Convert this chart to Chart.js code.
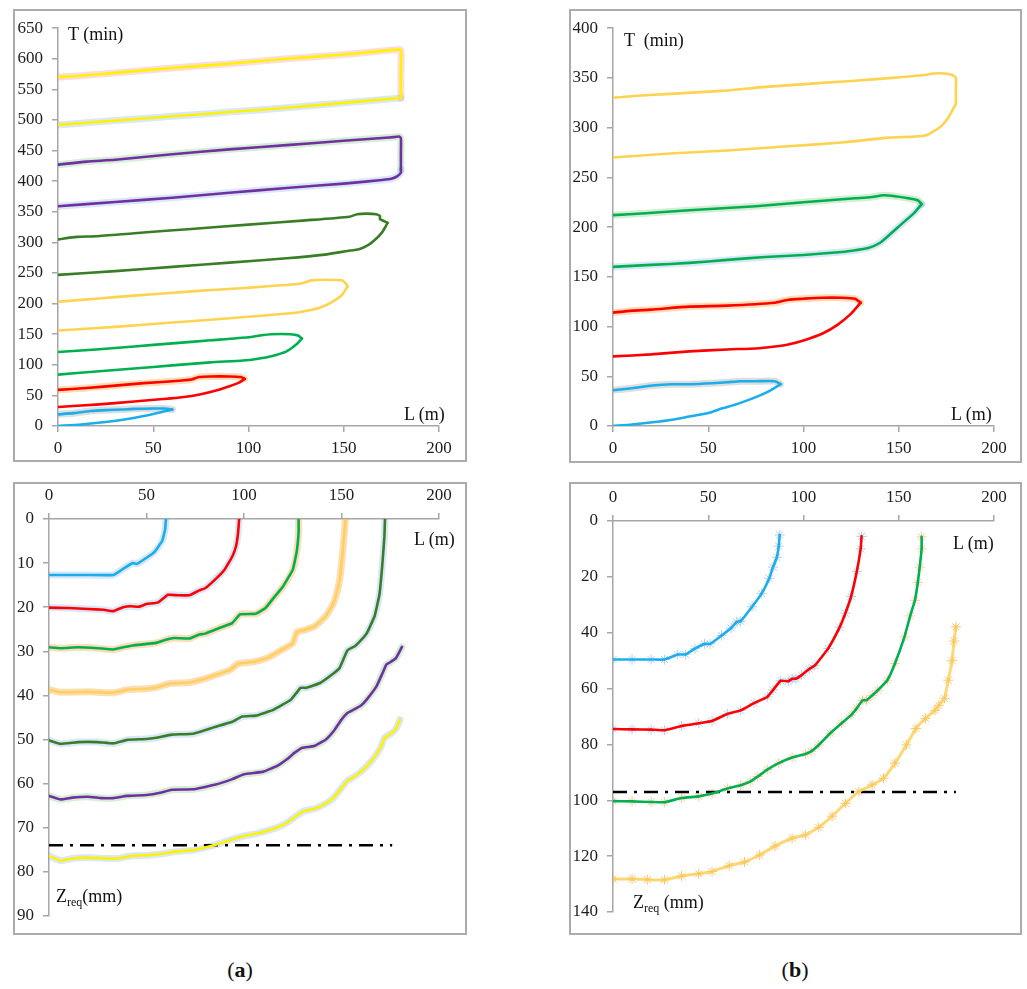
<!DOCTYPE html>
<html><head><meta charset="utf-8">
<script src="https://cdn.jsdelivr.net/npm/chart.js@4.4.1/dist/chart.umd.min.js"></script>
<style>
body{margin:0;background:#fff;width:1027px;height:989px;position:relative;overflow:hidden;font-family:'Liberation Serif',serif;}
.box{position:absolute;border:2px solid #ababab;box-sizing:border-box;}
canvas{position:absolute;}
.lbl{position:absolute;font-size:18px;line-height:20px;color:#111;white-space:pre;}
.cap{position:absolute;font-size:22px;line-height:24px;color:#111;width:60px;text-align:center;}
sub{font-size:12px;vertical-align:-4px;}
</style></head><body>
<div class="box" style="left:13px;top:9px;width:454px;height:453px"></div>
<div class="box" style="left:569px;top:9px;width:453px;height:454px"></div>
<div class="box" style="left:13px;top:482px;width:454px;height:453px"></div>
<div class="box" style="left:569px;top:482px;width:453px;height:453px"></div>
<canvas id="tl" width="454" height="453" style="left:13px;top:9px"></canvas>
<canvas id="tr" width="453" height="454" style="left:569px;top:9px"></canvas>
<canvas id="bl" width="454" height="453" style="left:13px;top:482px"></canvas>
<canvas id="br" width="453" height="453" style="left:569px;top:482px"></canvas>
<div class="lbl" style="left:68px;top:24px">T (min)</div>
<div class="lbl" style="left:404px;top:404px">L (m)</div>
<div class="lbl" style="left:624px;top:30px">T  (min)</div>
<div class="lbl" style="left:951px;top:404px">L (m)</div>
<div class="lbl" style="left:414px;top:529px">L (m)</div>
<div class="lbl" style="left:56px;top:886px">Z<sub>req</sub>(mm)</div>
<div class="lbl" style="left:953px;top:533px">L (m)</div>
<div class="lbl" style="left:633px;top:892px">Z<sub>req</sub> (mm)</div>
<div class="cap" style="left:210px;top:958px">(<b>a</b>)</div>
<div class="cap" style="left:765px;top:958px">(<b>b</b>)</div>
<script>
// ---------- data ----------
const xTicks = [0, 50, 100, 150, 200];
// (a) top: T (min) vs L (m) — advance (lower) and recession (upper) branches
const tlBlueAdv = [[0,0],[12,2.5],[25,6.5],[35,10.5],[43,15],[50,19.5],[56,24],[60,27]];
const tlBlueRec = [[60,27],[56,28.5],[50,28.5],[40,28],[34,27],[25,26],[17,24.5],[8,21],[0,19]];
const tlRedAdv = [[0,31],[20,35],[40,40],[55,44],[65,47],[75,52],[83,58],[90,65],[95,71],[98,77]];
const tlRedRec = [[98,77],[96,80],[90,81],[80,81],[74,80],[70,76],[60,73],[45,70],[30,66],[15,62],[0,59]];
const tlGreenAdv = [[0,84],[20,89],[40,94],[60,99],[80,104],[97,107],[105,110],[112,114],[120,122],[125,133],[128,143]];
const tlGreenRec = [[128,143],[126,148],[122,150],[112,150],[106,148],[100,145],[80,140],[60,135],[40,130],[20,125],[0,121]];
const tlOrangeAdv = [[0,156],[30,162],[60,169],[90,176],[110,181],[125,185],[132,189],[138,194],[144,203],[149,214],[152,228]];
const tlOrangeRec = [[152,228],[151,233],[149,238],[140,239],[133,238],[130,235],[126,232],[100,226],[70,220],[40,213],[20,208],[8,205],[0,203]];
const tlDkGreenAdv = [[0,247],[30,253],[60,260],[90,267],[120,274],[140,280],[152,286],[158,289],[163,296],[167,306],[170,316],[172,326],[173,332]];
const tlDkGreenRec = [[173,332],[171,335],[169,338],[169,343],[167,346],[162,347],[157,346],[153,342],[130,336],[100,329],[70,322],[40,315],[20,310],[10,309],[0,305]];
const tlPurpleAdv = [[0,359],[30,366],[60,373],[90,381],[120,389],[150,396],[170,402],[175,404],[178,408],[180,414],[180,419]];
const tlPurpleRec = [[180,419],[180,445],[180,470],[179,473],[176,472],[172,471],[150,466],[120,459],[90,452],[60,444],[30,435],[15,432],[0,427]];
const tlYellowAdv = [[0,492],[30,499],[60,506],[90,513],[120,520],[150,528],[180,536]];
const tlYellowRec = [[180,536],[180,575],[180,614],[178,615],[150,607],[120,600],[90,592],[60,585],[30,577],[10,572],[0,570]];
const tlYTicks = {min:0, max:650, step:50};

// (b) top
const trBlueAdv = [[0,0],[10,1.5],[22,4],[30,6],[40,9.5],[50,13],[57,17.5],[65,22],[75,29],[82,35],[88,42]];
const trBlueRec = [[88,42],[85,45],[75,45],[67,45],[60,44],[52,43],[40,42],[31,42],[22,41],[10,38],[0,36]];
const trRedAdv = [[0,70],[20,72],[40,75],[60,77],[75,78],[85,80],[92,82],[100,86],[110,93],[118,102],[125,113],[130,124]];
const trRedRec = [[130,124],[127,128],[120,129],[110,129],[100,128],[92,127],[85,124],[60,121],[40,120],[20,117],[10,116],[0,114]];
const trGreenAdv = [[0,160],[20,162],[40,164],[60,167],[80,170],[100,172],[120,175],[128,177],[134,179],[140,184],[145,192],[152,204],[158,214],[162,223]];
const trGreenRec = [[162,223],[160,227],[155,229],[148,231],[142,232],[135,230],[127,229],[100,225],[75,221],[40,217],[17,214],[0,212]];
const trYellowAdv = [[0,270],[30,274],[60,277],[90,281],[120,285],[145,290],[158,291],[164,292],[168,296],[172,301],[176,310],[180,324]];
const trYellowRec = [[180,324],[180,340],[180,350],[178,353],[174,354.5],[168,354.5],[164,353],[140,349],[110,345],[80,341],[57,337],[30,334],[13,332],[0,330]];
const trYTicks = {min:0, max:400, step:50};

// (a) bottom: Zreq (mm) vs L (m)
const blBlue = [[0,12.7],[10,12.7],[20,12.7],[33,12.7],[38,11.3],[43,10],[45,10.2],[50,8.8],[54,7.5],[58,5],[59.5,2.5],[60,0]];
const blRed = [[0,20.1],[10,20.2],[20,20.4],[28,20.6],[33,20.9],[38,20],[42,19.8],[46,19.9],[50,19.3],[56,18.9],[61,17.2],[66,17.3],[72,17.3],[77,16.2],[80,15.7],[85,13.8],[90,11.5],[94,8.5],[96,6],[97,3],[97.5,0]];
const blGreen = [[0,29.1],[6,29.3],[15,29.1],[25,29.3],[33,29.6],[38,29.1],[43,28.7],[55,28.1],[60,27.4],[64,27],[72,27.1],[77,26.2],[80,26],[88,24.6],[94,23.6],[98,21.6],[106,21.5],[111,20.2],[115,18],[120,15.3],[125,11.5],[127,7.5],[128,3],[128,0]];
const blOrange = [[0,38.7],[6,39.3],[20,39.2],[33,39.4],[40,38.7],[50,38.5],[55,38.2],[62,37.3],[72,37.1],[80,36.2],[88,35],[93,34.2],[97,32.8],[105,32.4],[112,31.5],[120,29.5],[125,28.2],[127,25.7],[130,25.3],[136,24.4],[142,22],[146,19],[149,14],[150.5,8],[151.5,3],[152,0]];
const blDkGreen = [[0,50.2],[6,51],[15,50.6],[25,50.6],[33,50.9],[40,50.1],[50,49.9],[55,49.6],[63,48.9],[74,48.7],[85,47.2],[94,46],[99,44.8],[106,44.6],[115,43.3],[124,41],[129,38.3],[132,38.3],[139,37.2],[146,35],[149,33.8],[153,29.8],[157,28.8],[160,27.5],[163,25.9],[167,22],[169.5,17],[171,10],[172,4],[172.3,0]];
const blPurple = [[0,62.8],[6,63.6],[12,63.2],[20,63],[27,63.3],[33,63.3],[40,62.8],[50,62.6],[57,62.1],[63,61.4],[74,61.3],[85,60.3],[94,59],[100,57.9],[110,57.3],[117,56],[122,54.5],[126,53],[130,51.9],[136,51.5],[142,50],[146,48.1],[150,45.5],[153,44],[156,43.3],[160,42.3],[163,40.9],[168,37.9],[171,35],[173,33],[175,32.5],[178,31.5],[181,29]];
const blYellow = [[0,76.4],[6,77.5],[12,77],[20,76.8],[30,77],[35,77],[43,76.4],[50,76.3],[57,76],[64,75.5],[74,75.1],[80,74.5],[86,73.8],[93,72.8],[100,71.9],[106,71.4],[112,70.7],[118,69.8],[122,68.9],[127,67.3],[131,66.2],[137,65.6],[142,64.5],[146,63.2],[150,61],[153,59.4],[158,58],[162,56.5],[166,54.5],[170,51.9],[172,49.7],[176,48.5],[178,47.5],[180,45.5]];
const blLimit = [[0,74],[176,74]];
const blYTicks = {min:0, max:90, step:10};

// (b) bottom
const brBlue = [[0,49.6],[10,49.6],[20,49.6],[27,49.6],[34,47.8],[38,47.8],[43,45.7],[48,44],[51,44],[57,41],[62,38.3],[65,36.1],[67,35.9],[73,30.7],[78,26],[82,20.5],[84,16.5],[86,13],[87,9],[87.5,5]];
const brRed = [[0,74.5],[10,74.6],[20,74.7],[27,74.9],[36,73.4],[45,72.4],[52,71.6],[60,69.1],[67,67.8],[74,65.2],[81,63],[84,60.5],[88,57.2],[92,57.4],[94,56.5],[96,56.5],[99,55.2],[103,53],[106,51.7],[113,45.6],[119,38],[122,33],[125,27],[128,18],[130,10],[130.5,5.5]];
const brGreen = [[0,100.3],[10,100.4],[20,100.6],[27,100.7],[36,99.2],[45,98.6],[52,97.6],[60,95.8],[67,94.6],[72,93.3],[76,91.5],[81,89],[87,86.7],[94,84.7],[101,83.4],[104,82.5],[108,80.2],[114,76],[120,72.4],[125,69.5],[128,67],[131,64.2],[133,64.2],[136,62.5],[139,60.6],[144,57],[148,51],[153,41.5],[156,34],[158.5,28.4],[160,22],[161,16.5],[162,10],[162,5.7]];
const brOrange = [[0,128.2],[10,128.2],[18,128.4],[27,128.5],[36,127.1],[45,126.3],[52,125.5],[61,123.4],[69,122.1],[77,119.6],[85,116.4],[94,113.6],[101,112.4],[108,109.7],[115,105.7],[122,101.1],[129,96.9],[136,94.5],[142,92.1],[148,86.7],[154,80.2],[159,74.3],[164,70.7],[169,67.8],[171,66],[174,63.5],[176,57],[178,50],[179,43],[180,37.9]];
const brLimit = [[0,97],[180,97]];
const brYTicks = {min:0, max:140, step:20};

// ---------- styling ----------
const C = {blue:'#1aaeea', red:'#ff0000', green:'#00b050', orange:'#ffd24f', dkgreen:'#3a7d27', purple:'#7030a0', yellow:'#fff200'};
const H = {lblue:'rgba(120,170,235,0.28)', pink:'rgba(245,150,150,0.32)', lgreen:'rgba(120,200,120,0.32)', orange:'rgba(250,170,70,0.4)', gray:'rgba(160,160,160,0.35)'};
const AX = '#a6a6a6';

function pts(a){ return a.map(p => ({x:p[0], y:p[1]})); }
function line(arr, color, o){ return Object.assign({data:pts(arr), showLine:true, borderColor:color, backgroundColor:color, borderWidth:2.6, pointRadius:0, tension:0.2, order:1, borderCapStyle:'round', borderJoinStyle:'round', fill:false}, o||{}); }
function halo(arr, color){ return line(arr, color, {borderWidth:7, order:3}); }
function marks(arr, color){ return {data:pts(arr), showLine:false, pointStyle:'star', pointRadius:5, pointBorderColor:color, pointBackgroundColor:color, pointBorderWidth:1, order:2}; }

Chart.defaults.font.family = "'Liberation Serif', serif";
Chart.defaults.font.size = 17;
Chart.defaults.color = '#1e1e1e';

function make(id, g, datasets){
  new Chart(document.getElementById(id), {
    type:'scatter',
    data:{datasets},
    options:{
      responsive:false, animation:false, devicePixelRatio:1,
      layout:{padding:g.pad},
      plugins:{legend:{display:false}, tooltip:{enabled:false}},
      scales:{
        x:{type:'linear', position:g.xPos, min:xTicks[0], max:xTicks[xTicks.length-1],
           afterBuildTicks:s=>{ s.ticks = xTicks.map(v=>({value:v})); },
           ticks:{padding:g.xPad, maxRotation:0},
           grid:{drawOnChartArea:false, drawTicks:true, tickLength:6, color:AX, lineWidth:1.5},
           border:{color:AX, width:1.5},
           afterFit:s=>{ s.height = g.xH; }},
        y:{type:'linear', min:g.y.min, max:g.y.max, reverse:g.rev,
           ticks:{stepSize:g.y.step, padding:9},
           grid:{drawOnChartArea:false, drawTicks:true, tickLength:6, color:AX, lineWidth:1.5},
           border:{color:AX, width:1.5},
           afterFit:s=>{ s.width = g.yW; }}
      }
    }
  });
}

make('tl', {pad:{top:15,left:0,right:28,bottom:0}, xPos:'bottom', xH:36, xPad:6, yW:45, y:tlYTicks, rev:false}, [
  line(tlBlueAdv, C.blue), line(tlBlueRec, C.blue), halo(tlBlueRec, H.gray),
  line(tlRedAdv, C.red), line(tlRedRec, C.red), halo(tlRedRec, H.orange),
  line(tlGreenAdv, C.green), line(tlGreenRec, C.green),
  line(tlOrangeAdv, C.orange), line(tlOrangeRec, C.orange),
  line(tlDkGreenAdv, C.dkgreen), line(tlDkGreenRec, C.dkgreen),
  line(tlPurpleAdv, C.purple), line(tlPurpleRec, C.purple), halo(tlPurpleAdv, H.lblue), halo(tlPurpleRec, H.lgreen),
  line(tlYellowAdv, C.yellow), line(tlYellowRec, C.yellow), halo(tlYellowAdv, H.lblue), halo(tlYellowRec, H.pink)
]);

make('tr', {pad:{top:15,left:0,right:28,bottom:0}, xPos:'bottom', xH:37, xPad:6, yW:44, y:trYTicks, rev:false}, [
  line(trBlueAdv, C.blue), line(trBlueRec, C.blue), halo(trBlueRec, H.gray),
  line(trRedAdv, C.red), line(trRedRec, C.red), halo(trRedRec, H.orange),
  line(trGreenAdv, C.green), line(trGreenRec, C.green), halo(trGreenAdv, H.lblue), halo(trGreenRec, H.lgreen),
  line(trYellowAdv, C.orange), line(trYellowRec, C.orange)
]);

make('bl', {pad:{top:0,left:0,right:28,bottom:18}, xPos:'top', xH:37, xPad:7, yW:36, y:blYTicks, rev:true}, [
  line(blBlue, C.blue, {tension:0.1}), halo(blBlue, H.lblue),
  line(blRed, C.red, {tension:0.1}), halo(blRed, H.lblue),
  line(blGreen, C.green, {tension:0.1}), halo(blGreen, H.orange),
  line(blOrange, 'rgba(255,205,70,0.8)', {tension:0.1}), halo(blOrange, H.orange),
  line(blDkGreen, C.dkgreen, {tension:0.1}), halo(blDkGreen, H.lblue),
  line(blPurple, C.purple, {tension:0.1}), halo(blPurple, H.lgreen),
  line(blYellow, C.yellow, {tension:0.1}), halo(blYellow, H.lblue),
  line(blLimit, '#000', {borderWidth:2.5, borderDash:[14,7,3,7], borderCapStyle:'butt', tension:0})
]);

make('br', {pad:{top:0,left:0,right:28,bottom:23}, xPos:'top', xH:39, xPad:7, yW:44, y:brYTicks, rev:true}, [
  line(brBlue, C.blue, {tension:0.1}), marks(brBlue, 'rgba(120,170,235,0.6)'),
  line(brRed, C.red, {tension:0.1}), marks(brRed, 'rgba(120,170,235,0.6)'),
  line(brGreen, C.green, {tension:0.1}), marks(brGreen, 'rgba(250,160,90,0.6)'),
  line(brOrange, 'rgba(255,205,80,0.8)', {borderWidth:3, tension:0.1}), marks(brOrange, 'rgba(245,170,60,0.7)'),
  line(brLimit, '#000', {borderWidth:2.5, borderDash:[14,7,3,7], borderCapStyle:'butt', tension:0})
]);
</script>
</body></html>
